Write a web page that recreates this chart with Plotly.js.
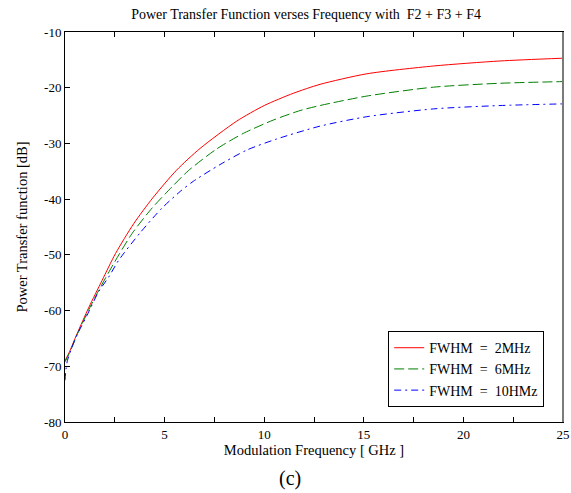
<!DOCTYPE html>
<html>
<head>
<meta charset="utf-8">
<script src="https://cdn.plot.ly/plotly-3.0.1.min.js"></script>
<style>html,body{margin:0;padding:0;background:#fff;}#chart{width:571px;height:493px;}</style>
</head>
<body>
<div id="chart"></div>
<script>
// Data
const redX   = [0, 0.2, 0.6, 1.2, 1.86, 2.53, 3.45, 4.4, 5.6, 6.78, 8.62, 10.0, 11.46, 12.8, 15.15, 18.5, 21.84, 25];
const redY   = [-69.0, -67.6, -64.2, -59.4, -54.6, -49.8, -44.4, -39.8, -34.8, -30.9, -26.0, -23.2, -21.0, -19.4, -17.5, -16.1, -15.2, -14.7];

const greenX = [0, 0.2, 0.6, 1.2, 1.69, 2.44, 3.36, 4.37, 5.37, 6.19, 7.61, 8.95, 10.46, 11.8, 12.8, 15.15, 18.5, 21.84, 25];
const greenY = [-69.2, -67.8, -64.4, -59.8, -56.4, -51.6, -46.2, -41.6, -37.8, -34.9, -31.0, -28.2, -25.8, -24.1, -23.2, -21.5, -19.9, -19.2, -18.9];

const blueX  = [0, 0.05, 0.12, 0.35, 0.6, 1.1, 1.69, 2.19, 2.69, 3.78, 4.87, 5.79, 6.44, 7.78, 9.12, 10.63, 12.8, 15.15, 18.5, 21.84, 25];
const blueY  = [-72.5, -70.5, -69.0, -66.6, -64.4, -60.9, -56.6, -54.0, -51.0, -46.0, -41.6, -38.6, -36.8, -33.8, -31.2, -29.2, -26.9, -25.2, -23.8, -23.2, -22.9];

const seriesNames = ["FWHM\u00a0\u00a0=\u00a0\u00a02MHz", "FWHM\u00a0\u00a0=\u00a0\u00a06MHz", "FWHM\u00a0\u00a0=\u00a0\u00a010HMz"];

const xTickVals = [0, 2.5, 5, 7.5, 10, 12.5, 15, 17.5, 20, 22.5, 25];
const xTickText = ["0", "", "5", "", "10", "", "15", "", "20", "", "25"];
const yTickVals = [-10, -20, -30, -40, -50, -60, -70, -80];
const yTickText = ["-10", "-20", "-30", "-40", "-50", "-60", "-70", "-80"];

const serif = "Liberation Serif, Times New Roman, serif";

const traces = [
  {x: redX, y: redY, name: seriesNames[0], mode: "lines",
   line: {color: "#ff0000", width: 1, shape: "spline", smoothing: 0.7}},
  {x: greenX, y: greenY, name: seriesNames[1], mode: "lines",
   line: {color: "#008000", width: 1, dash: "10px,4px", shape: "spline", smoothing: 0.7}},
  {x: blueX, y: blueY, name: seriesNames[2], mode: "lines",
   line: {color: "#0000ff", width: 1, dash: "7px,4px,2px,4px", shape: "spline", smoothing: 0.7}}
];

const layout = {
  width: 571, height: 493,
  margin: {l: 65, r: 8, t: 32, b: 71},
  paper_bgcolor: "#ffffff",
  plot_bgcolor: "#ffffff",
  font: {family: serif, size: 13, color: "#000"},
  title: {
    text: "Power Transfer Function verses Frequency with \u00a0F2 + F3 + F4",
    font: {family: serif, size: 14, color: "#000"},
    x: 0.536, xref: "container", xanchor: "center",
    y: 0.972, yref: "container", yanchor: "middle"
  },
  xaxis: {
    range: [0, 25],
    tickmode: "array", tickvals: xTickVals, ticktext: xTickText,
    ticks: "inside", ticklen: 5, tickcolor: "#000", tickwidth: 1,
    showline: true, linecolor: "#000", linewidth: 1, mirror: "ticks",
    showgrid: false, zeroline: false,
    tickfont: {family: serif, size: 13, color: "#000"},
    title: {text: "Modulation Frequency [ GHz ]", font: {family: serif, size: 14.5, color: "#000"}, standoff: 2}
  },
  yaxis: {
    range: [-80, -10],
    tickmode: "array", tickvals: yTickVals, ticktext: yTickText,
    ticks: "inside", ticklen: 5, tickcolor: "#000", tickwidth: 1,
    showline: true, linecolor: "#000", linewidth: 1, mirror: true,
    showgrid: false, zeroline: false,
    tickfont: {family: serif, size: 13, color: "#000"},
    title: {text: "Power Transfer function [dB]", font: {family: serif, size: 14.5, color: "#000"}, standoff: 12}
  },
  legend: {
    x: 0.649, y: 0.233, xanchor: "left", yanchor: "top",
    bgcolor: "#ffffff", bordercolor: "#000", borderwidth: 1,
    font: {family: serif, size: 14, color: "#000"},
    tracegroupgap: 0, itemwidth: 30
  },
  showlegend: true,
  shapes: [
    {type: "line", xref: "paper", yref: "paper", x0: 1, x1: 1, y0: 0, y1: 1,
     line: {color: "#7a7a7a", width: 2}}
  ],
  annotations: [
    {text: "(c)", xref: "paper", yref: "paper", x: 0.452, y: -0.144, xanchor: "center", yanchor: "middle",
     showarrow: false, font: {family: serif, size: 20, color: "#000"}}
  ]
};

Plotly.newPlot("chart", traces, layout, {displayModeBar: false, staticPlot: true});
</script>
</body>
</html>
